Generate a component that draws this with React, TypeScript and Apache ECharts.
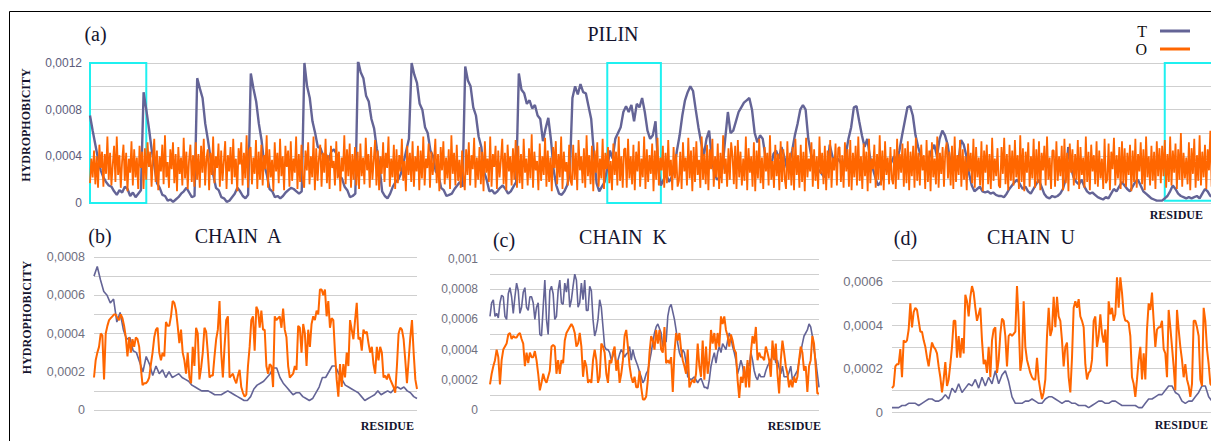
import { useEffect, useRef } from 'react';
import * as echarts from 'echarts';

// All values are in units of 1e-5 (hydrophobicity)
// PILIN (a): 21 chains; T has 20 samples per chain, O has 40 samples per chain
const PILIN_T_ROWS: number[][] = [
  [75, 62, 50, 38, 28, 22, 18, 15, 14, 10, 7, 11, 9, 14, 12, 6, 9, 5, 8, 11],
  [95, 80, 64, 46, 32, 17, 13, 7, 6, 2, 3, 1, 3, 5, 8, 10, 13, 9, 5, 6],
  [107, 98, 90, 68, 54, 38, 24, 13, 11, 5, 4, 1, 2, 5, 8, 13, 10, 6, 4, 7],
  [111, 98, 87, 68, 54, 33, 24, 12, 10, 5, 6, 4, 6, 9, 11, 13, 12, 10, 8, 10],
  [120, 100, 90, 70, 60, 48, 47, 40, 42, 36, 44, 46, 42, 23, 21, 14, 11, 5, 6, 8],
  [122, 112, 107, 92, 87, 72, 64, 47, 32, 10, 6, 4, 8, 14, 18, 20, 25, 35, 45, 55],
  [120, 110, 103, 85, 80, 65, 60, 45, 40, 27, 24, 13, 11, 6, 7, 8, 12, 15, 18, 14],
  [117, 105, 100, 82, 75, 57, 48, 27, 20, 10, 11, 8, 10, 13, 15, 12, 8, 10, 14, 18],
  [111, 97, 94, 85, 88, 81, 84, 75, 72, 53, 64, 73, 54, 28, 15, 8, 7, 10, 15, 25],
  [90, 100, 93, 102, 95, 94, 83, 72, 43, 17, 10, 14, 18, 30, 45, 38, 55, 60, 65, 78],
  [83, 78, 84, 70, 85, 82, 90, 78, 62, 55, 58, 70, 30, 15, 20, 25, 18, 22, 30, 45],
  [58, 75, 88, 95, 100, 96, 80, 65, 52, 40, 55, 62, 38, 25, 20, 22, 30, 55, 78, 60],
  [62, 70, 78, 82, 86, 88, 90, 80, 60, 52, 58, 55, 40, 35, 30, 42, 45, 38, 48, 40],
  [30, 35, 45, 58, 68, 80, 84, 80, 55, 42, 35, 30, 28, 25, 22, 28, 50, 40, 32, 38],
  [35, 30, 42, 55, 65, 82, 83, 70, 58, 48, 55, 40, 30, 22, 15, 18, 25, 32, 28, 35],
  [40, 35, 45, 58, 70, 82, 83, 75, 58, 48, 40, 35, 32, 38, 45, 50, 40, 55, 62, 58],
  [50, 35, 30, 28, 35, 54, 50, 40, 25, 15, 10, 12, 14, 10, 9, 10, 8, 9, 7, 6],
  [6, 5, 8, 12, 15, 18, 20, 16, 12, 14, 10, 8, 12, 16, 20, 14, 8, 5, 4, 6],
  [5, 6, 8, 12, 20, 48, 30, 22, 18, 16, 20, 14, 10, 8, 9, 7, 5, 4, 3, 5],
  [4, 8, 12, 10, 14, 18, 15, 12, 10, 14, 18, 20, 15, 10, 8, 6, 4, 3, 2, 2],
  [2, 4, 6, 10, 15, 12, 8, 6, 5, 4, 5, 4, 5, 6, 4, 8, 12, 10, 6, 5],
];
const PILIN_O_ROWS: number[][] = [
  [17, 38, 22, 45, 16, 40, 13, 50, 30, 44, 14, 42, 25, 57, 20, 43, 15, 33, 49, 18, 57, 24, 41, 13, 36, 50, 19, 43, 10, 38, 26, 53, 15, 46, 22, 39, 12, 49, 30, 44],
  [12, 47, 20, 52, 31, 44, 14, 38, 55, 18, 45, 11, 40, 27, 50, 16, 58, 22, 35, 13, 46, 29, 52, 17, 42, 10, 48, 25, 39, 15, 56, 21, 44, 12, 37, 50, 18, 41, 14, 52],
  [20, 42, 13, 49, 26, 55, 15, 38, 46, 11, 43, 24, 57, 17, 40, 30, 51, 14, 45, 19, 36, 53, 12, 41, 27, 48, 16, 55, 22, 38, 10, 47, 33, 52, 15, 43, 21, 58, 13, 45],
  [48, 16, 39, 25, 54, 12, 44, 20, 50, 15, 41, 29, 58, 13, 46, 22, 37, 10, 52, 27, 43, 17, 55, 23, 40, 11, 49, 31, 45, 14, 53, 19, 38, 26, 57, 12, 42, 18, 50, 21],
  [13, 45, 28, 52, 16, 40, 22, 57, 11, 47, 19, 38, 50, 14, 43, 26, 55, 17, 41, 12, 49, 30, 36, 15, 53, 21, 44, 10, 39, 27, 58, 16, 46, 23, 51, 13, 42, 20, 48, 15],
  [44, 12, 51, 23, 39, 16, 56, 28, 42, 13, 48, 20, 37, 54, 15, 45, 11, 40, 25, 52, 18, 43, 30, 57, 14, 38, 22, 50, 12, 46, 17, 41, 27, 55, 19, 36, 10, 49, 24, 43],
  [18, 53, 14, 40, 27, 49, 11, 45, 21, 57, 15, 38, 30, 51, 13, 44, 24, 36, 55, 17, 42, 10, 48, 28, 53, 16, 39, 21, 46, 12, 58, 25, 43, 15, 50, 19, 37, 13, 45, 22],
  [11, 46, 24, 52, 15, 41, 29, 56, 13, 39, 20, 48, 16, 44, 10, 53, 26, 38, 18, 57, 14, 42, 31, 49, 12, 45, 22, 37, 55, 16, 43, 11, 50, 27, 40, 15, 47, 20, 54, 13],
  [49, 17, 42, 12, 55, 26, 38, 15, 47, 21, 59, 13, 44, 28, 36, 11, 51, 19, 40, 24, 56, 14, 45, 18, 39, 10, 48, 30, 53, 16, 42, 22, 57, 12, 44, 27, 35, 15, 50, 19],
  [15, 50, 20, 43, 11, 54, 28, 40, 17, 47, 13, 58, 23, 41, 16, 49, 10, 45, 26, 52, 14, 38, 21, 55, 12, 43, 29, 48, 17, 36, 11, 51, 24, 44, 15, 57, 19, 40, 13, 46],
  [47, 13, 55, 21, 40, 16, 50, 11, 44, 27, 53, 14, 38, 22, 57, 12, 46, 18, 41, 25, 51, 10, 45, 20, 56, 15, 39, 28, 49, 13, 43, 17, 54, 23, 37, 11, 48, 21, 42, 14],
  [19, 44, 12, 52, 27, 39, 15, 56, 21, 45, 10, 48, 18, 53, 24, 37, 13, 57, 20, 42, 16, 50, 11, 46, 29, 55, 14, 40, 22, 51, 12, 43, 17, 58, 25, 38, 14, 47, 20, 52],
  [41, 16, 49, 12, 54, 22, 44, 15, 38, 19, 57, 11, 47, 26, 40, 14, 52, 10, 45, 21, 55, 17, 39, 12, 48, 27, 43, 15, 58, 20, 36, 13, 50, 23, 42, 11, 53, 18, 46, 21],
  [12, 53, 20, 43, 15, 48, 11, 55, 24, 41, 13, 50, 18, 44, 10, 56, 22, 38, 27, 52, 14, 46, 19, 40, 12, 57, 25, 43, 16, 49, 11, 45, 21, 54, 13, 39, 28, 51, 15, 47],
  [48, 18, 41, 13, 52, 27, 46, 14, 54, 11, 43, 22, 49, 15, 57, 19, 40, 12, 51, 23, 44, 10, 55, 17, 38, 29, 50, 13, 42, 20, 58, 15, 45, 11, 53, 24, 39, 16, 48, 21],
  [16, 46, 12, 55, 20, 42, 26, 51, 14, 47, 17, 53, 11, 44, 23, 49, 13, 56, 19, 43, 15, 50, 28, 41, 12, 54, 18, 45, 10, 52, 22, 38, 16, 57, 13, 43, 25, 48, 14, 44],
  [52, 21, 44, 15, 49, 12, 57, 18, 41, 24, 54, 14, 46, 20, 40, 11, 51, 27, 43, 17, 55, 13, 48, 22, 39, 15, 53, 10, 45, 26, 50, 16, 42, 12, 56, 19, 38, 23, 47, 15],
  [13, 48, 25, 56, 16, 42, 11, 50, 19, 45, 15, 54, 22, 41, 12, 58, 18, 47, 10, 44, 26, 52, 14, 40, 21, 55, 13, 46, 17, 53, 11, 43, 28, 49, 15, 57, 20, 39, 12, 45],
  [45, 14, 53, 19, 40, 23, 49, 11, 55, 17, 43, 10, 51, 26, 46, 15, 42, 20, 54, 12, 48, 24, 39, 13, 57, 18, 44, 11, 50, 27, 41, 16, 53, 14, 45, 21, 38, 12, 55, 17],
  [20, 51, 11, 44, 29, 56, 15, 41, 21, 48, 12, 53, 17, 47, 14, 43, 24, 50, 10, 45, 18, 55, 13, 42, 27, 52, 16, 46, 11, 57, 22, 40, 15, 49, 19, 44, 12, 53, 23, 47],
  [17, 49, 23, 54, 13, 42, 18, 57, 15, 45, 26, 51, 12, 46, 20, 60, 14, 43, 21, 39, 16, 52, 11, 47, 25, 55, 13, 41, 19, 58, 15, 44, 22, 50, 12, 46, 28, 62, 14, 40],
];

// CHAIN A (b)
const CHAIN_A_T = [
  70, 75, 68, 62, 60, 56, 58, 46, 51, 42, 37, 38, 31, 30, 25, 20, 28, 24, 18, 23,
  19, 21, 17, 20, 17, 18, 19, 17, 16, 15, 13, 12, 11, 10, 10, 10, 9, 8, 8, 8,
  9, 10, 9, 8, 7, 6, 5, 5, 7, 11, 13, 14, 15, 17, 19, 22, 22, 17, 14, 12,
  10, 8, 9, 9, 7, 6, 5, 6, 9, 12, 17, 17, 20, 23, 23, 19, 16, 13, 12, 11,
  10, 9, 7, 5, 6, 7, 8, 10, 8, 9, 10, 9, 11, 12, 11, 12, 10, 9, 7, 6,
];
const CHAIN_A_O = [
  17, 26, 30, 33, 40, 39, 16, 40, 44, 47, 48, 49, 50, 50, 48, 47, 50, 48, 44, 38,
  28, 38, 30, 37, 33, 38, 37, 33, 22, 13, 14, 14, 15, 17, 24, 30, 38, 42, 43, 30,
  26, 30, 28, 46, 44, 44, 49, 57, 56, 52, 44, 35, 42, 30, 26, 19, 30, 17, 14, 33,
  23, 43, 40, 16, 22, 30, 43, 41, 30, 17, 18, 18, 28, 37, 42, 57, 30, 17, 33, 47,
  49, 17, 18, 19, 16, 14, 18, 21, 12, 9, 7, 8, 23, 33, 47, 49, 31, 54, 52, 43,
  52, 42, 42, 23, 19, 24, 23, 12, 49, 47, 48, 49, 43, 53, 42, 38, 23, 17, 18, 19,
  23, 21, 44, 43, 30, 45, 40, 23, 42, 33, 45, 49, 47, 52, 50, 63, 63, 60, 63, 49,
  57, 43, 48, 47, 30, 16, 7, 24, 12, 24, 17, 30, 23, 47, 42, 37, 47, 56, 37, 38,
  31, 42, 40, 41, 35, 30, 33, 24, 19, 33, 26, 33, 30, 17, 18, 16, 19, 16, 14, 12,
  9, 23, 40, 43, 42, 37, 26, 14, 26, 38, 47, 30, 16, 11,
];

// CHAIN K (c)
const CHAIN_K_T = [
  62, 71, 73, 62, 64, 61, 71, 76, 75, 62, 60, 77, 81, 75, 64, 75, 84, 79, 64, 68,
  78, 81, 68, 66, 75, 75, 71, 60, 68, 71, 50, 49, 68, 86, 60, 50, 79, 82, 77, 60,
  62, 79, 86, 71, 70, 84, 78, 87, 68, 73, 82, 90, 86, 68, 71, 84, 73, 86, 66, 66,
  82, 79, 60, 49, 53, 60, 73, 68, 55, 42, 40, 40, 38, 33, 36, 40, 29, 33, 37, 40,
  38, 35, 37, 38, 42, 33, 40, 35, 32, 29, 25, 22, 18, 20, 24, 26, 32, 38, 45, 51,
  55, 57, 54, 51, 42, 46, 45, 62, 68, 70, 65, 60, 53, 44, 38, 35, 40, 38, 31, 22,
  21, 20, 21, 22, 20, 18, 20, 21, 18, 15, 15, 14, 20, 29, 34, 38, 31, 38, 42, 38,
  44, 42, 40, 46, 51, 48, 42, 38, 33, 24, 28, 33, 29, 22, 24, 31, 29, 38, 33, 26,
  22, 20, 24, 22, 22, 22, 26, 29, 31, 33, 36, 38, 31, 33, 28, 24, 29, 22, 22, 22,
  25, 29, 20, 22, 24, 26, 32, 38, 44, 49, 51, 53, 57, 55, 49, 40, 33, 24, 15,
];
const CHAIN_K_O = [
  17, 24, 29, 33, 40, 35, 17, 33, 40, 42, 44, 50, 51, 47, 49, 48, 48, 50, 51, 47,
  44, 29, 38, 31, 38, 35, 35, 39, 33, 24, 13, 18, 24, 20, 18, 22, 26, 42, 43, 42,
  24, 33, 24, 33, 31, 46, 51, 53, 55, 57, 55, 51, 42, 44, 51, 42, 22, 33, 29, 18,
  20, 18, 33, 40, 33, 18, 22, 44, 42, 38, 24, 18, 33, 31, 38, 42, 26, 33, 18, 24,
  33, 49, 53, 42, 29, 22, 18, 22, 15, 15, 26, 15, 7, 7, 9, 20, 38, 49, 46, 40,
  53, 44, 53, 40, 38, 55, 31, 33, 31, 35, 12, 38, 51, 46, 51, 40, 33, 29, 24, 40,
  15, 18, 20, 18, 24, 44, 29, 22, 46, 20, 42, 24, 33, 53, 44, 51, 40, 51, 42, 62,
  57, 62, 53, 49, 42, 50, 46, 40, 38, 20, 8, 22, 18, 29, 15, 33, 15, 38, 49, 44,
  55, 33, 38, 35, 35, 33, 42, 38, 33, 22, 46, 33, 44, 24, 11, 33, 46, 38, 29, 24,
  15, 20, 15, 22, 18, 22, 33, 42, 38, 26, 29, 12, 29, 33, 49, 44, 29, 11, 11,
];

// CHAIN U (d)
const CHAIN_U_T = [
  2, 2, 2, 3, 3, 4, 4, 4, 3, 4, 5, 6, 6, 5, 5, 6, 8, 6, 11, 9,
  13, 9, 11, 13, 12, 15, 11, 16, 12, 16, 13, 19, 13, 17, 19, 14, 7, 4, 4, 4,
  5, 5, 6, 5, 4, 4, 6, 7, 7, 6, 5, 4, 5, 5, 4, 4, 3, 3, 3, 2,
  3, 4, 5, 5, 4, 4, 5, 5, 4, 3, 3, 3, 3, 3, 2, 2, 4, 6, 6, 7,
  8, 8, 10, 12, 12, 9, 8, 5, 4, 5, 5, 7, 9, 12, 12, 7, 5,
];
const CHAIN_U_O = [
  11, 12, 21, 22, 22, 29, 16, 33, 32, 33, 38, 50, 39, 46, 48, 47, 42, 37, 37, 33,
  30, 25, 21, 27, 32, 30, 29, 27, 21, 16, 9, 15, 23, 12, 15, 22, 30, 42, 42, 25,
  35, 25, 34, 27, 54, 51, 44, 53, 58, 55, 48, 42, 45, 48, 33, 22, 24, 18, 30, 16,
  33, 38, 39, 18, 24, 36, 43, 42, 35, 21, 35, 36, 35, 36, 37, 58, 42, 19, 24, 51,
  30, 24, 21, 18, 16, 15, 15, 25, 15, 10, 6, 9, 15, 35, 48, 35, 38, 53, 39, 53,
  44, 42, 33, 21, 30, 32, 16, 9, 25, 48, 51, 48, 52, 44, 42, 39, 22, 15, 18, 19,
  24, 42, 44, 30, 35, 45, 36, 32, 38, 21, 51, 45, 48, 42, 45, 62, 48, 62, 55, 45,
  42, 42, 41, 35, 16, 13, 7, 15, 24, 30, 15, 27, 15, 38, 50, 47, 55, 42, 30, 38,
  39, 39, 42, 29, 27, 16, 47, 39, 30, 21, 10, 47, 38, 30, 24, 16, 22, 15, 12, 7,
  13, 42, 42, 39, 35, 15, 12, 48, 42, 29, 22, 13, 12,
];

const T_COLOR = '#646496';
const O_COLOR = '#ff6600';
const SERIF = "'Liberation Serif', 'Times New Roman', serif";
const SANS = "'Liberation Sans', Arial, sans-serif";

const scale = (a: number[]) => a.map((v) => +(v * 1e-5).toFixed(8));
const idx = (n: number) => Array.from({ length: n }, (_, i) => i);

const yLabel = (every: number) => (v: number) => {
  const k = Math.round(v * 1e5);
  if (k % every !== 0) return '';
  return k === 0 ? '0' : String(parseFloat(v.toFixed(5))).replace('.', ',');
};

export default function App() {
  const ref = useRef<HTMLDivElement>(null);

  useEffect(() => {
    if (!ref.current) return;
    const chart = echarts.init(ref.current, undefined, { renderer: 'svg' });

    const PILIN_T = PILIN_T_ROWS.flat();
    const PILIN_O = PILIN_O_ROWS.flat();

    const xCat = (grid: number, n: number) => ({
      type: 'category' as const,
      gridIndex: grid,
      data: idx(n),
      boundaryGap: false,
      axisLine: { show: false },
      axisTick: { show: false },
      axisLabel: { show: false },
      splitLine: { show: false },
    });
    const yVal = (grid: number, max: number, every: number, size: number, color: string, margin: number) => ({
      type: 'value' as const,
      gridIndex: grid,
      min: 0,
      max,
      interval: 0.0001 * (grid === 0 ? 2 : 1),
      axisLine: { show: false },
      axisTick: { show: false },
      splitLine: { lineStyle: { color: '#cfcfcf', width: 1 } },
      axisLabel: {
        formatter: yLabel(every),
        fontFamily: SANS,
        fontSize: size,
        color,
        margin,
      },
    });

    const line = (name: string, data: number[], xi: number, yi: number, color: string, width: number, z = 2) => ({
      name,
      type: 'line' as const,
      xAxisIndex: xi,
      yAxisIndex: yi,
      data: scale(data),
      showSymbol: false,
      symbol: 'none',
      z,
      lineStyle: { color, width },
      itemStyle: { color },
      emphasis: { disabled: true },
    });

    const txt = (text: string, x: number, y: number, size: number, opts: any = {}) => ({
      type: 'text',
      x,
      y,
      rotation: opts.rotation || 0,
      silent: true,
      style: {
        text,
        font: `${opts.bold ? 'bold ' : ''}${size}px ${SERIF}`,
        fill: opts.color || '#14142e',
        textAlign: opts.align || 'center',
        textVerticalAlign: 'middle',
        align: opts.align || 'center',
        verticalAlign: 'middle',
      },
    });

    const option: any = {
      animation: false,
      backgroundColor: '#ffffff',
      grid: [
        { left: 90, right: -2, top: 63, bottom: 238, outerBoundsMode: 'none' },
        { left: 94, right: 794, top: 257, bottom: 31, outerBoundsMode: 'none' },
        { left: 490, right: 392, top: 259, bottom: 31, outerBoundsMode: 'none' },
        { left: 892, right: -1, top: 260, bottom: 29, outerBoundsMode: 'none' },
      ],
      xAxis: [
        xCat(0, PILIN_T.length),
        xCat(1, CHAIN_A_T.length),
        xCat(1, CHAIN_A_O.length),
        xCat(2, CHAIN_K_T.length),
        xCat(3, CHAIN_U_T.length),
        xCat(3, CHAIN_U_O.length),
        xCat(0, PILIN_O.length),
      ],
      yAxis: [
        yVal(0, 0.0012, 40, 12, '#5c5c7c', 8),
        yVal(1, 0.0008, 20, 12.5, '#707080', 9),
        yVal(2, 0.001, 20, 12, '#707080', 12),
        yVal(3, 0.0007, 20, 13, '#707080', 9),
      ],
      legend: {
        data: ['T', 'O'],
        orient: 'vertical',
        right: 16,
        top: 18,
        align: 'right',
        icon: 'rect',
        itemWidth: 30,
        itemHeight: 3,
        itemGap: 2,
        selectedMode: false,
        textStyle: { fontFamily: SERIF, fontSize: 16, color: '#111', padding: [0, 8, 0, 0] },
      },
      series: [
        line('T', PILIN_T, 0, 0, T_COLOR, 2.4),
        line('O', PILIN_O, 6, 0, O_COLOR, 1.8),
        {
          name: 'boxes',
          type: 'line',
          xAxisIndex: 0,
          yAxisIndex: 0,
          data: [],
          z: 10,
          markArea: {
            silent: true,
            itemStyle: { color: 'rgba(0,0,0,0)', borderColor: '#1ff0f0', borderWidth: 2 },
            data: [
              [{ xAxis: 0, yAxis: 0 }, { xAxis: 21, yAxis: 0.0012 }],
              [{ xAxis: 193, yAxis: 0 }, { xAxis: 213, yAxis: 0.0012 }],
              [{ xAxis: 401, yAxis: 0.00002 }, { xAxis: 419, yAxis: 0.0012 }],
            ],
          },
        },
        line('T', CHAIN_A_T, 1, 1, T_COLOR, 1.6),
        line('O', CHAIN_A_O, 2, 1, O_COLOR, 2),
        line('T', CHAIN_K_T, 3, 2, T_COLOR, 1.6),
        line('O', CHAIN_K_O, 3, 2, O_COLOR, 2),
        line('T', CHAIN_U_T, 4, 3, T_COLOR, 1.6),
        line('O', CHAIN_U_O, 5, 3, O_COLOR, 2),
      ],
      graphic: [
        {
          type: 'rect',
          silent: true,
          shape: { x: 9.5, y: 11.5, width: 1300, height: 600 },
          style: { fill: 'none', stroke: '#000', lineWidth: 1 },
        },
        txt('(a)', 95.5, 34, 20),
        txt('PILIN', 613, 34, 20),
        txt('(b)', 100, 236, 20),
        txt('CHAIN  A', 238, 236, 20),
        txt('(c)', 504, 240, 20),
        txt('CHAIN  K', 623, 237, 20),
        txt('(d)', 905.5, 238, 20),
        txt('CHAIN  U', 1031, 237, 20),
        txt('HYDROPHOBICITY', 26, 125, 12, { rotation: Math.PI / 2, bold: true }),
        txt('HYDROPHOBICITY', 26.7, 317.5, 12, { rotation: Math.PI / 2, bold: true }),
        txt('RESIDUE', 1203, 215, 12, { align: 'right', bold: true }),
        txt('RESIDUE', 414, 426, 12, { align: 'right', bold: true }),
        txt('RESIDUE', 821, 426, 12, { align: 'right', bold: true }),
        txt('RESIDUE', 1208, 425, 12, { align: 'right', bold: true }),
      ],
    };

    chart.setOption(option);
    return () => chart.dispose();
  }, []);

  return (
    <div
      ref={ref}
      style={{ position: 'fixed', left: 0, top: 0, width: 1211, height: 441, background: '#fff' }}
    />
  );
}
